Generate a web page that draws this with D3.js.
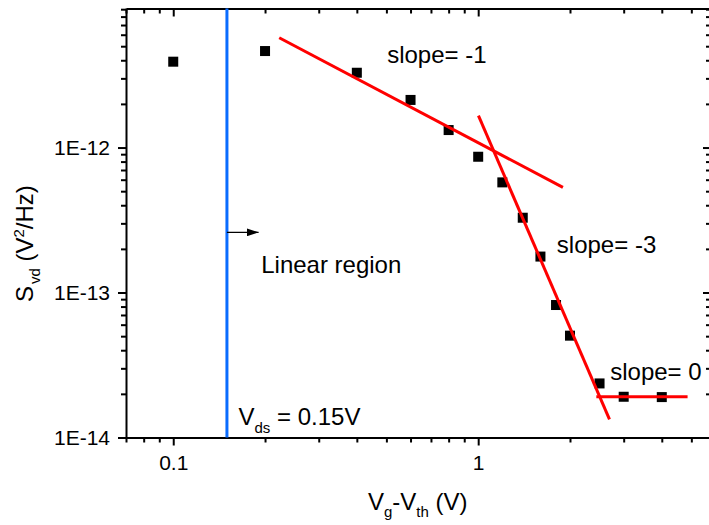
<!DOCTYPE html>
<html>
<head>
<meta charset="utf-8">
<script src="https://cdn.jsdelivr.net/npm/d3@7"></script>
<style>
  html, body { margin: 0; padding: 0; background: #fff; }
  svg { display: block; font-family: "Liberation Sans", Arial, sans-serif; }
  .axis path, .axis line { stroke: #000; stroke-width: 2; }
  .axis text { font-size: 21px; fill: #000; font-family: "Liberation Sans", Arial, sans-serif; }
</style>
</head>
<body>
<svg id="chart" width="709" height="525"></svg>
<script>
// Measured noise spectral density vs. gate overdrive
const vgt = [0.1, 0.2, 0.4, 0.6, 0.8, 1.0, 1.2, 1.4, 1.6, 1.8, 2.0, 2.5, 3.0, 4.0];
const svd = [3.91e-12, 4.63e-12, 3.28e-12, 2.13e-12, 1.32e-12, 8.64e-13, 5.75e-13,
             3.28e-13, 1.77e-13, 8.2e-14, 5.04e-14, 2.36e-14, 1.91e-14, 1.9e-14];

// Fitted power-law segments (endpoints in data units)
const fitSlope1 = [[0.2226, 5.72e-12], [1.896, 5.31e-13]];
const fitSlope3 = [[1.002, 1.66e-12], [2.695, 1.335e-14]];
const fitSlope0 = [[2.44, 1.91e-14], [4.86, 1.91e-14]];

// Drain bias marker
const vds = 0.15;

// Axis ticks
const xMajor = [0.1, 1];
const xMajorLabels = ["0.1", "1"];
const xMinor = [0.07, 0.08, 0.09, 0.2, 0.3, 0.4, 0.5, 0.6, 0.7, 0.8, 0.9, 2, 3, 4, 5];
const yMajor = [1e-14, 1e-13, 1e-12];
const yMajorLabels = ["1E-14", "1E-13", "1E-12"];
const yMinor = [2e-14, 3e-14, 4e-14, 5e-14, 6e-14, 7e-14, 8e-14, 9e-14,
                2e-13, 3e-13, 4e-13, 5e-13, 6e-13, 7e-13, 8e-13, 9e-13,
                2e-12, 3e-12, 4e-12, 5e-12, 6e-12, 7e-12, 8e-12, 9e-12];

const svg = d3.select("#chart");
const plotL = 126, plotR = 711, plotT = 8.5, plotB = 437.5;

const x = d3.scaleLog().domain([0.07, 5.8]).range([plotL, plotR]);
const y = d3.scaleLog().domain([1e-14, 9.1e-12]).range([plotB, plotT]);

// Axes: bottom/left ticks outward, top/right ticks inward
function drawAxis(make, transform, major, labels, minor, majorLen, minorLen, showLabels) {
  const gMinor = svg.append("g").attr("class", "axis").attr("transform", transform)
    .call(make().tickValues(minor).tickSize(minorLen).tickFormat(""));
  gMinor.select(".domain").remove();
  const gMajor = svg.append("g").attr("class", "axis").attr("transform", transform)
    .call(make().tickValues(major).tickSize(majorLen).tickSizeOuter(0)
      .tickPadding(showLabels ? 5 : 0)
      .tickFormat((d, i) => showLabels ? labels[i] : ""));
  return gMajor;
}

const xb = drawAxis(() => d3.axisBottom(x), `translate(0,${plotB})`, xMajor, xMajorLabels, xMinor, 8, 5, true);
xb.selectAll("text").attr("dy", "0.95em");
drawAxis(() => d3.axisTop(x), `translate(0,${plotT})`, xMajor, xMajorLabels, xMinor, -8, -5, false);
const yl = drawAxis(() => d3.axisLeft(y), `translate(${plotL},0)`, yMajor, yMajorLabels, yMinor, 8, 5, true);
yl.selectAll("text").attr("dx", "-3");
drawAxis(() => d3.axisRight(y), `translate(${plotR},0)`, yMajor, yMajorLabels, yMinor, -8, -5, false);

// Vertical marker at V_ds
svg.append("line")
  .attr("x1", x(vds)).attr("x2", x(vds))
  .attr("y1", plotT).attr("y2", plotB)
  .attr("stroke", "#0a6cff").attr("stroke-width", 3);

// Data points
const pts = vgt.map((v, i) => [v, svd[i]]);
const sq = 10;
svg.append("g").selectAll("rect").data(pts).join("rect")
  .attr("x", d => x(d[0]) - sq / 2)
  .attr("y", d => y(d[1]) - sq / 2)
  .attr("width", sq).attr("height", sq)
  .attr("fill", "#000");

// Fit lines
const line = d3.line().x(d => x(d[0])).y(d => y(d[1]));
[fitSlope1, fitSlope3, fitSlope0].forEach(seg => {
  svg.append("path").attr("d", line(seg))
    .attr("fill", "none").attr("stroke", "#ff0000").attr("stroke-width", 3);
});

// Arrow into the linear region
svg.append("defs").append("marker")
  .attr("id", "arrow").attr("viewBox", "0 0 12 8")
  .attr("refX", 12).attr("refY", 4)
  .attr("markerWidth", 12).attr("markerHeight", 8)
  .attr("markerUnits", "userSpaceOnUse").attr("orient", "auto")
  .append("path").attr("d", "M0,0 L12,4 L0,8 Z").attr("fill", "#000");
svg.append("line")
  .attr("x1", x(vds)).attr("y1", y(2.6e-13))
  .attr("x2", x(0.1905)).attr("y2", y(2.6e-13))
  .attr("stroke", "#000").attr("stroke-width", 1.2)
  .attr("marker-end", "url(#arrow)");

// Annotations
const ann = svg.append("g").attr("font-size", 24).attr("fill", "#000");
ann.append("text").attr("x", x(0.503)).attr("y", y(3.81e-12)).text("slope= -1");
ann.append("text").attr("x", x(1.811)).attr("y", y(1.86e-13)).text("slope= -3");
ann.append("text").attr("x", x(2.71)).attr("y", y(2.49e-14)).text("slope= 0");
ann.append("text").attr("x", x(0.1943)).attr("y", y(1.37e-13)).text("Linear region");
const vt = ann.append("text").attr("x", x(0.1637)).attr("y", y(1.22e-14));
vt.append("tspan").text("V");
vt.append("tspan").attr("font-size", 15).attr("dy", 8).text("ds");
vt.append("tspan").attr("dy", -8).text(" = 0.15V");

// Axis titles
const xt = svg.append("text").attr("x", 368).attr("y", 510).attr("font-size", 24);
xt.append("tspan").text("V");
xt.append("tspan").attr("font-size", 15).attr("dy", 7).text("g");
xt.append("tspan").attr("dy", -7).text("-V");
xt.append("tspan").attr("font-size", 15).attr("dy", 7).text("th");
xt.append("tspan").attr("dy", -7).text(" (V)");

const yt = svg.append("text")
  .attr("transform", "translate(33,302) rotate(-90)")
  .attr("font-size", 24);
yt.append("tspan").text("S");
yt.append("tspan").attr("font-size", 15).attr("dy", 7).attr("dx", 2).text("vd");
yt.append("tspan").attr("dy", -7).text(" (V");
yt.append("tspan").attr("font-size", 15).attr("dy", -9).text("2");
yt.append("tspan").attr("dy", 9).text("/Hz)");
</script>
</body>
</html>
